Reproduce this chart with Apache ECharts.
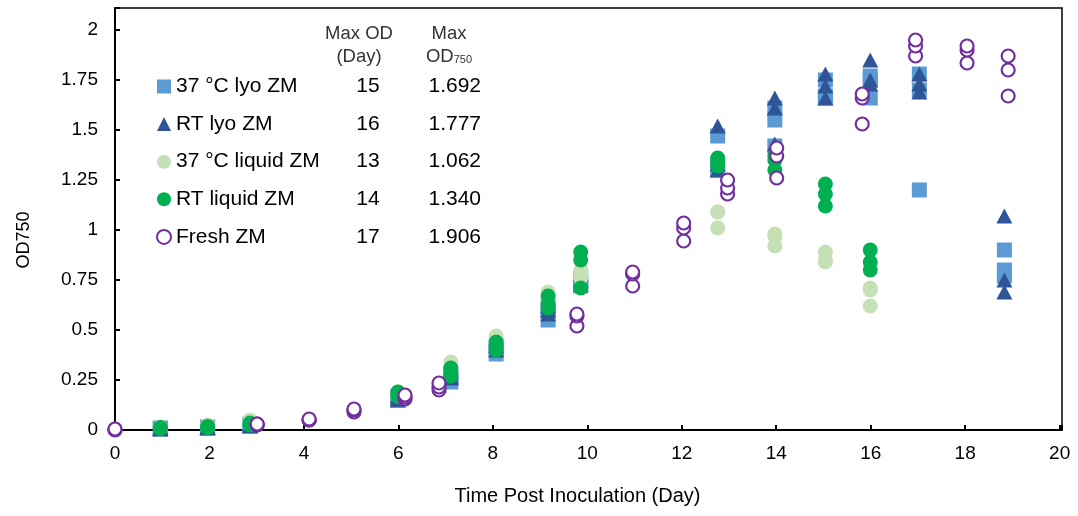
<!DOCTYPE html>
<html>
<head>
<meta charset="utf-8">
<script src="https://cdn.jsdelivr.net/npm/echarts@6/dist/echarts.min.js"></script>
<style>
html,body{margin:0;padding:0;background:#fff;}
#c{width:1078px;height:516px;}
</style>
</head>
<body>
<div id="c"></div>
<script>
// ---- data ----
const seriesNames = ['37 °C lyo ZM', 'RT lyo ZM', '37 °C liquid ZM', 'RT liquid ZM', 'Fresh ZM'];
const maxDay = ['15', '16', '13', '14', '17'];
const maxOD = ['1.692', '1.777', '1.062', '1.340', '1.906'];
const xTicks = [0, 2, 4, 6, 8, 10, 12, 14, 16, 18, 20];
const yTicks = [0, 0.25, 0.5, 0.75, 1, 1.25, 1.5, 1.75, 2];

const lyo37 = [
  [0.96,0.005],[0.96,0.008],[0.96,0.01],
  [1.96,0.01],[1.96,0.012],[1.96,0.015],
  [2.86,0.02],[2.86,0.025],[2.86,0.03],
  [5.99,0.15],[5.99,0.16],[5.99,0.17],
  [7.11,0.24],[7.11,0.26],[7.11,0.28],
  [8.07,0.38],[8.07,0.40],[8.07,0.42],
  [9.17,0.55],[9.17,0.60],[9.17,0.62],
  [9.86,0.72],[9.86,0.74],[9.86,0.76],
  [12.76,1.47],[12.76,1.30],[12.76,1.33],
  [13.97,1.61],[13.97,1.55],[13.97,1.42],
  [15.04,1.75],[15.04,1.67],[15.04,1.66],
  [15.99,1.77],[15.99,1.75],[15.99,1.66],
  [17.03,1.78],[17.03,1.70],[17.03,1.20],
  [18.83,0.90],[18.83,0.80],[18.83,0.77]
];
const lyoRT = [
  [0.96,0.005],[0.96,0.008],[0.96,0.01],
  [1.96,0.01],[1.96,0.012],[1.96,0.015],
  [2.86,0.02],[2.86,0.022],[2.86,0.025],
  [5.99,0.15],[5.99,0.16],[5.99,0.17],
  [7.11,0.26],[7.11,0.27],[7.11,0.29],
  [8.07,0.40],[8.07,0.42],[8.07,0.46],
  [9.17,0.58],[9.17,0.60],[9.17,0.62],
  [9.86,0.73],[9.86,0.75],[9.86,0.78],
  [12.76,1.52],[12.76,1.33],[12.76,1.30],
  [13.97,1.66],[13.97,1.61],[13.97,1.43],
  [15.04,1.78],[15.04,1.72],[15.04,1.66],
  [15.99,1.85],[15.99,1.75],[15.99,1.73],
  [17.03,1.78],[17.03,1.73],[17.03,1.69],
  [18.83,1.07],[18.83,0.75],[18.83,0.69]
];
const liquid37 = [
  [0.96,0.01],[0.96,0.012],[0.96,0.015],
  [1.96,0.02],[1.96,0.022],[1.96,0.025],
  [2.86,0.04],[2.86,0.045],[2.86,0.05],
  [5.99,0.17],[5.99,0.18],[5.99,0.19],
  [7.11,0.30],[7.11,0.32],[7.11,0.34],
  [8.07,0.42],[8.07,0.44],[8.07,0.47],
  [9.17,0.64],[9.17,0.67],[9.17,0.69],
  [9.86,0.76],[9.86,0.78],[9.86,0.80],
  [12.76,1.09],[12.76,1.01],[12.76,1.09],
  [13.97,0.98],[13.97,0.92],[13.97,0.97],
  [15.04,0.89],[15.04,0.84],[15.04,0.85],
  [15.99,0.71],[15.99,0.62],[15.99,0.70]
];
const liquidRT = [
  [0.96,0.008],[0.96,0.01],[0.96,0.012],
  [1.96,0.012],[1.96,0.015],[1.96,0.018],
  [2.86,0.025],[2.86,0.03],[2.86,0.035],
  [5.99,0.17],[5.99,0.18],[5.99,0.19],
  [7.11,0.27],[7.11,0.29],[7.11,0.31],
  [8.07,0.40],[8.07,0.42],[8.07,0.44],
  [9.17,0.61],[9.17,0.63],[9.17,0.67],
  [9.86,0.71],[9.86,0.85],[9.86,0.89],
  [12.76,1.36],[12.76,1.34],[12.76,1.32],
  [13.97,1.37],[13.97,1.35],[13.97,1.30],
  [15.04,1.23],[15.04,1.18],[15.04,1.12],
  [15.99,0.90],[15.99,0.84],[15.99,0.80]
];
const fresh = [
  [0,0.0],[0,0.003],[0,0.005],
  [3.01,0.025],[3.01,0.03],[3.01,0.03],
  [4.11,0.05],[4.11,0.05],[4.11,0.055],
  [5.06,0.09],[5.06,0.10],[5.06,0.105],
  [6.14,0.155],[6.14,0.165],[6.14,0.175],
  [6.86,0.20],[6.86,0.215],[6.86,0.235],
  [9.78,0.52],[9.78,0.57],[9.78,0.58],
  [10.96,0.72],[10.96,0.78],[10.96,0.79],
  [12.04,0.945],[12.04,1.01],[12.04,1.035],
  [12.97,1.18],[12.97,1.21],[12.97,1.25],
  [14.01,1.26],[14.01,1.37],[14.01,1.41],
  [15.82,1.53],[15.82,1.66],[15.82,1.68],
  [16.95,1.87],[16.95,1.92],[16.95,1.95],
  [18.04,1.835],[18.04,1.90],[18.04,1.92],
  [18.91,1.67],[18.91,1.80],[18.91,1.87]
];

// ---- chart ----
const FONT = '"Liberation Sans", Arial, sans-serif';
const chart = echarts.init(document.getElementById('c'), null, {renderer: 'canvas'});
const seriesData = [lyo37, lyoRT, liquid37, liquidRT, fresh];
const styles = [
  {symbol: 'rect', symbolSize: 15, itemStyle: {color: '#5B9BD5', opacity: 1}},
  {symbol: 'triangle', symbolSize: [16, 15], itemStyle: {color: '#2F5597', opacity: 1}},
  {symbol: 'circle', symbolSize: 15, itemStyle: {color: '#C5E0B4', opacity: 1}},
  {symbol: 'circle', symbolSize: 15, itemStyle: {color: '#00B050', opacity: 1}},
  {symbol: 'circle', symbolSize: 13, itemStyle: {color: '#ffffff', borderColor: '#7030A0', borderWidth: 2.2, opacity: 1}}
];
const isTick = (v, arr) => arr.some(t => Math.abs(t - v) < 1e-6);

chart.setOption({
  animation: false,
  backgroundColor: '#fff',
  textStyle: {fontFamily: FONT},
  grid: {left: 115, right: 16, top: 8, bottom: 86, show: true, borderColor: '#000', borderWidth: 1.5},
  xAxis: {
    type: 'value', min: 0, max: 20.05, interval: 2,
    name: 'Time Post Inoculation (Day)', nameLocation: 'middle', nameGap: 56,
    nameTextStyle: {fontSize: 20, color: '#000', fontFamily: FONT, padding: [0, 22, 0, 0]},
    axisLine: {show: true, lineStyle: {color: '#000', width: 2}},
    axisTick: {show: true, inside: true, length: 5, lineStyle: {color: '#000', width: 2}},
    axisLabel: {fontSize: 19, color: '#000', margin: 14, fontFamily: FONT,
      formatter: v => isTick(v, xTicks) ? String(Math.round(v)) : ''},
    splitLine: {show: false}
  },
  yAxis: {
    type: 'value', min: 0, max: 2.11, interval: 0.25,
    name: 'OD750', nameLocation: 'middle', nameGap: 82,
    nameTextStyle: {fontSize: 18, color: '#000', fontFamily: FONT, padding: [0, 42, 0, 0]},
    axisLine: {show: true, lineStyle: {color: '#000', width: 2}},
    axisTick: {show: true, inside: true, length: 5, lineStyle: {color: '#000', width: 2}},
    axisLabel: {fontSize: 19, color: '#000', margin: 17, fontFamily: FONT,
      formatter: v => isTick(v, yTicks) ? String(+v.toFixed(2)) : ''},
    splitLine: {show: false}
  },
  legend: {
    orient: 'vertical', left: 151, top: 71,
    itemWidth: 14, itemHeight: 14, itemGap: 16.6,
    data: seriesNames,
    textStyle: {
      fontSize: 21, color: '#000', fontFamily: FONT,
      rich: {
        n: {fontSize: 21, width: 172, lineHeight: 24, fontFamily: FONT, color: '#000'},
        d: {fontSize: 21, width: 40, align: 'center', lineHeight: 24, fontFamily: FONT, color: '#000'},
        v: {fontSize: 21, width: 93, align: 'right', lineHeight: 24, fontFamily: FONT, color: '#000'}
      }
    },
    formatter: name => {
      const i = seriesNames.indexOf(name);
      return '{n|' + name + '}{d|' + maxDay[i] + '}{v|' + maxOD[i] + '}';
    }
  },
  graphic: [
    {type: 'text', x: 359, y: 22, style: {text: 'Max OD\n(Day)', font: '18.5px ' + FONT, fill: '#333', align: 'center', lineHeight: 23}},
    {type: 'text', x: 449, y: 22, style: {
      text: '{a|Max}\n{a|OD}{s|750}', align: 'center', fill: '#333',
      rich: {a: {font: '18.5px ' + FONT, fill: '#333', lineHeight: 23}, s: {font: '11px ' + FONT, fill: '#333', padding: [6, 0, 0, 0]}}
    }}
  ],
  series: seriesData.map((d, i) => Object.assign({
    type: 'scatter', name: seriesNames[i], data: d, z: 2 + i
  }, styles[i]))
});
</script>
</body>
</html>
